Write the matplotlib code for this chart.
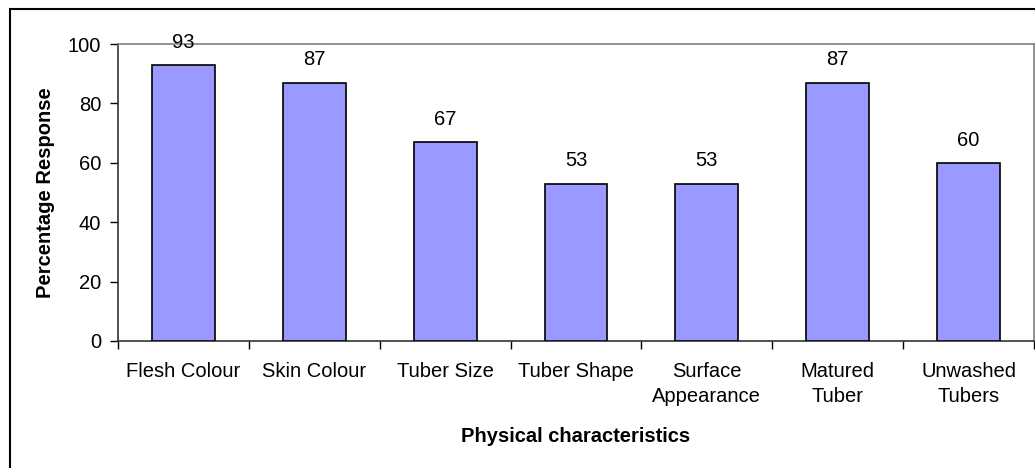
import numpy as np
import matplotlib.pyplot as plt
from matplotlib.patches import Rectangle

# data
categories = ['Flesh Colour', 'Skin Colour', 'Tuber Size', 'Tuber Shape',
              'Surface\nAppearance', 'Matured\nTuber', 'Unwashed\nTubers']
values = [93, 87, 67, 53, 53, 87, 60]
yticks = [0, 20, 40, 60, 80, 100]

plt.rcParams['font.family'] = ['Liberation Sans', 'DejaVu Sans']
fs = 14.5

fig = plt.figure(figsize=(10.35, 4.68), dpi=100)
ax = fig.add_axes([118 / 1035, 1 - 341 / 468, 916 / 1035, 297 / 468])

x = np.arange(len(categories))
ax.bar(x, values, width=0.48, color='#9999FF', edgecolor='black', linewidth=1.2, zorder=3)

for xi, v in zip(x, values):
    ax.annotate(str(v), (xi, v), xytext=(0, 9.5), textcoords='offset points',
                ha='center', va='bottom', fontsize=fs, annotation_clip=False)

ax.set_xlim(-0.5, len(categories) - 0.5)
ax.set_ylim(0, 100)
ax.set_yticks(yticks)
ax.tick_params(axis='y', labelsize=fs, length=6, width=1, direction='out', pad=6)

# category labels centred, tick marks between categories
ax.set_xticks(x)
ax.set_xticklabels(categories, fontsize=fs, linespacing=1.4)
ax.tick_params(axis='x', which='major', length=0, pad=15)
ax.set_xticks(np.arange(-0.5, len(categories)), minor=True)
ax.tick_params(axis='x', which='minor', length=6, width=1, direction='out')

for s in ['top', 'right']:
    ax.spines[s].set_color('#808080')
    ax.spines[s].set_linewidth(1.2)
for s in ['left', 'bottom']:
    ax.spines[s].set_color('#333333')
    ax.spines[s].set_linewidth(1.2)

ax.set_ylabel('Percentage Response', fontsize=fs, fontweight='bold', labelpad=9)
ax.set_xlabel('Physical characteristics', fontsize=fs, fontweight='bold', labelpad=15)

# outer chart border (only top and left edges fall inside the image)
fig.patches.append(Rectangle((10 / 1035, -0.1), 1.2, 1 - 9 / 468 + 0.1, transform=fig.transFigure,
                             fill=False, edgecolor='black', linewidth=1.5))

fig.savefig('out.png', dpi=100)
